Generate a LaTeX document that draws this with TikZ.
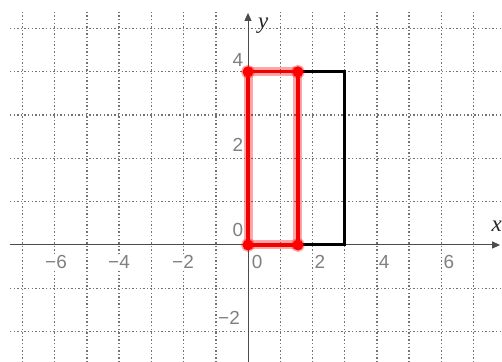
\documentclass[tikz,border=0pt]{standalone}
\usepackage{fontspec}
\setmainfont{Liberation Sans}
\newfontfamily\varfont{Liberation Serif}
\usetikzlibrary{arrows.meta}
\begin{document}
\begin{tikzpicture}[x=32.2bp,y=43.3bp,
  gridline/.style={draw=black!55, line width=1.4bp, dash pattern=on 1.4bp off 2.2bp},
  ticklab/.style={text=black!50, font=\fontsize{19}{19}\selectfont, fill=white, inner sep=0.6bp},
  axisline/.style={draw=black!70, line width=1bp, -{Triangle[length=8bp,width=7bp]}},
  varlab/.style={font=\varfont\itshape\fontsize{23}{23}\selectfont, text=black!85},
  blackrect/.style={draw=black, line width=3bp, line join=miter},
  redhalo/.style={draw=red, opacity=0.35, line width=9bp, line cap=round, line join=round},
  redcore/.style={draw=red!95!black, line width=3.2bp, line cap=round, line join=round},
  reddot/.style={circle, fill=red, draw=red, draw opacity=0.35, line width=3bp, minimum size=11bp, inner sep=0pt}
]
\useasboundingbox[fill=white] (-7.7019,-2.7021) rectangle (7.8882,5.6582);
% grid
\foreach \i in {-7,...,-1,1,2,...,7} \draw[gridline] (\i,-2.71) -- (\i,5.38);
\foreach \j in {-2,-1,1,2,3,4,5} \draw[gridline] (-7.39,\j) -- (7.9,\j);
% tick labels
\node[ticklab] (xm6) at (-5.963,-0.393) {−6};
\node[ticklab] (xm4) at (-4.006,-0.393) {−4};
\node[ticklab] (xm2) at (-2.019,-0.393) {−2};
\node[ticklab] (x0) at (0.28,-0.393) {0};
\node[ticklab] (x2) at (2.236,-0.393) {2};
\node[ticklab] (x4) at (4.224,-0.393) {4};
\node[ticklab] (x6) at (6.242,-0.393) {6};
\node[ticklab] (y4) at (-0.311,4.273) {4};
\node[ticklab] (y2) at (-0.311,2.309) {2};
\node[ticklab] (y0) at (-0.311,0.346) {0};
\node[ticklab] (ym2) at (-0.59,-1.686) {−2};
% axes
\coordinate (xs) at (-7.39,0);
\coordinate (xe) at (7.83,0);
\coordinate (ys) at (0,-2.71);
\coordinate (ye) at (0,5.36);
\draw[axisline] (xs) -- (xe);
\draw[axisline] (ys) -- (ye);
\node[varlab] (xlab) at (7.72,0.44) {x};
\node[varlab] (ylab) at (0.47,5.06) {y};
% black rectangle
\coordinate (B0) at (0,0);
\coordinate (B1) at (3,0);
\coordinate (B2) at (3,4);
\coordinate (B3) at (0,4);
\draw[blackrect] (B0) -- (B1) -- (B2) -- (B3) -- cycle;
% red rectangle
\coordinate (R0) at (0,0);
\coordinate (R1) at (1.55,0);
\coordinate (R2) at (1.55,4);
\coordinate (R3) at (0,4);
\draw[redhalo] (R0) -- (R1) -- (R2) -- (R3) -- cycle;
\draw[redcore] (R0) -- (R1) -- (R2) -- (R3) -- cycle;
\node[reddot] (d0) at (R0) {};
\node[reddot] (d1) at (R1) {};
\node[reddot] (d2) at (R2) {};
\node[reddot] (d3) at (R3) {};
\end{tikzpicture}
\end{document}
